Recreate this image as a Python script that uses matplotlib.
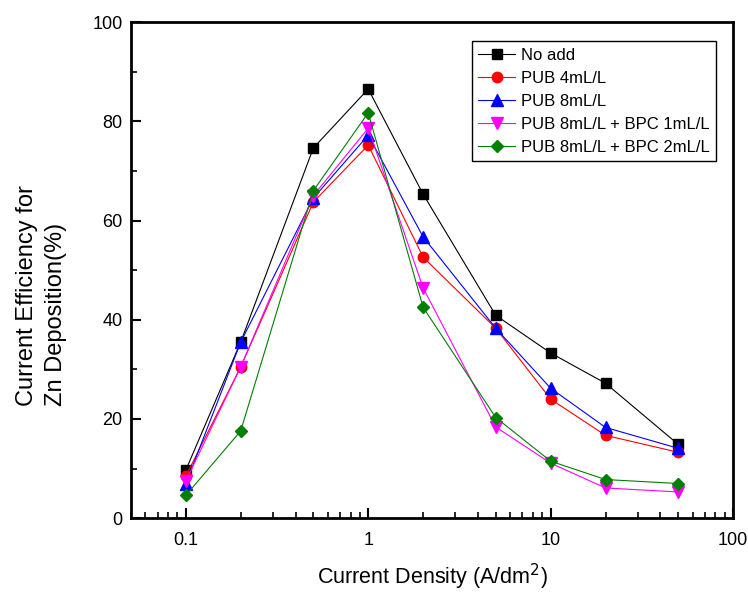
import matplotlib
matplotlib.use("Agg")
import matplotlib.pyplot as plt
from matplotlib.ticker import NullFormatter, LogLocator, MultipleLocator

plt.rcParams['font.family'] = ['Liberation Sans', 'DejaVu Sans']

x = [0.1, 0.2, 0.5, 1, 2, 5, 10, 20, 50]
no_add = [9.7, 35.5, 74.6, 86.5, 65.3, 40.9, 33.3, 27.2, 14.9]
pub4 = [8.5, 30.5, 63.7, 75.2, 52.6, 38.3, 24.0, 16.7, 13.3]
pub8 = [7.0, 35.5, 64.5, 77.2, 56.7, 38.3, 26.2, 18.3, 14.1]
pub8_bpc1 = [7.5, 30.5, 65.0, 78.6, 46.4, 18.4, 11.1, 6.1, 5.3]
pub8_bpc2 = [4.6, 17.6, 66.0, 81.7, 42.5, 20.3, 11.5, 7.8, 7.0]

series = [
    ("No add", no_add, "black", "s", 7),
    ("PUB 4mL/L", pub4, "red", "o", 7.5),
    ("PUB 8mL/L", pub8, "blue", "^", 8),
    ("PUB 8mL/L + BPC 1mL/L", pub8_bpc1, "magenta", "v", 8),
    ("PUB 8mL/L + BPC 2mL/L", pub8_bpc2, "green", "D", 6.5),
]

fig = plt.figure(figsize=(7.48, 5.95), dpi=100)
ax = fig.add_axes([0.175, 0.129, 0.805, 0.834])

for label, y, c, m, ms in series:
    ax.plot(x, y, color=c, lw=0.8, marker=m, markersize=ms, markerfacecolor=c,
            markeredgecolor=c, label=label)

ax.set_xscale('log')
ax.set_xlim(0.05, 100)
ax.set_ylim(0, 100)
ax.set_xticks([0.1, 1, 10, 100])
ax.set_xticklabels(["0.1", "1", "10", "100"])
ax.xaxis.set_minor_locator(LogLocator(base=10, subs=range(2, 10)))
ax.xaxis.set_minor_formatter(NullFormatter())
ax.set_yticks([0, 20, 40, 60, 80, 100])
ax.yaxis.set_minor_locator(MultipleLocator(10))

ax.tick_params(axis='both', which='major', direction='in', length=7, width=1.5,
               labelsize=13, top=False, right=False)
ax.tick_params(axis='x', which='major', pad=10)
ax.tick_params(axis='y', which='major', pad=6)
ax.tick_params(axis='both', which='minor', direction='in', length=4, width=1.2,
               top=False, right=False)
for s in ax.spines.values():
    s.set_linewidth(2)

fig.text(0.578, 0.03, "Current Density (A/dm$^2$)", fontsize=15.5,
         ha='center', va='center')
fig.text(0.056, 0.504, "Current Efficiency for\nZn Deposition(%)", fontsize=17,
         ha='center', va='center', rotation=90, multialignment='left',
         linespacing=1.4)

leg = ax.legend(loc='upper right', bbox_to_anchor=(0.972, 0.962), borderaxespad=0,
                fontsize=12, frameon=True, fancybox=False, edgecolor='black',
                framealpha=1, handlelength=2.2, borderpad=0.4, labelspacing=0.48,
                handletextpad=0.35)
leg.get_frame().set_linewidth(1.0)

fig.savefig("out.png", dpi=100)
